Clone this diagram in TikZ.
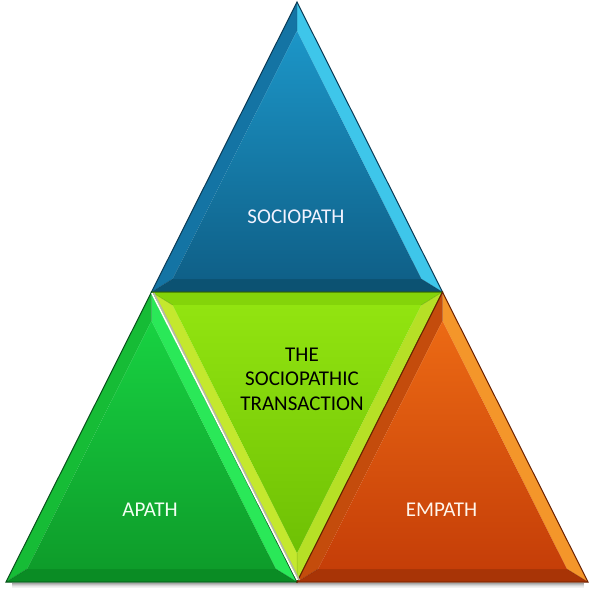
\documentclass[tikz,border=0pt]{standalone}
\usepackage{fontspec}
\setmainfont{Carlito}
\definecolor{bOut}{HTML}{0A3A55}
\definecolor{bLeft}{HTML}{1474A4}
\definecolor{bRight}{HTML}{3EC6EA}
\definecolor{bBase}{HTML}{0C5272}
\definecolor{bTop}{HTML}{1C96C8}
\definecolor{bBot}{HTML}{0F6088}
\definecolor{lOut}{HTML}{3A7000}
\definecolor{lLeft}{HTML}{C4E82E}
\definecolor{lRight}{HTML}{B6E026}
\definecolor{lBase}{HTML}{84D40A}
\definecolor{lTop}{HTML}{92E410}
\definecolor{lBot}{HTML}{6EC004}
\definecolor{gOut}{HTML}{06501A}
\definecolor{gLeft}{HTML}{16BC36}
\definecolor{gRight}{HTML}{2AE858}
\definecolor{gBase}{HTML}{0A8C24}
\definecolor{gTop}{HTML}{18D242}
\definecolor{gBot}{HTML}{0E9C2A}
\definecolor{oOut}{HTML}{6A2000}
\definecolor{oLeft}{HTML}{C44C0C}
\definecolor{oRight}{HTML}{F4962A}
\definecolor{oBase}{HTML}{A83406}
\definecolor{oTop}{HTML}{EC6A14}
\definecolor{oBot}{HTML}{C53E08}
\begin{document}
\begin{tikzpicture}[x=1pt,y=-1pt,
  lbl/.style={font=\fontsize{21}{24.5}\selectfont, inner sep=0pt, align=center}]
\useasboundingbox (0,0) rectangle (593,594);
% #1 cx, #2 apex y, #3 dir (1 up, -1 down), #4 outline, #5 left facet, #6 right facet, #7 base facet, #8 inner top, #9 inner bottom
\newcommand\bevtri[9]{%
  \begin{scope}[shift={(#1,#2)}]
    \coordinate (OA) at (0,0);
    \coordinate (OL) at (-145.5,{#3*290});
    \coordinate (OR) at (145.5,{#3*290});
    \coordinate (IA) at (0,{#3*29});
    \coordinate (IL) at (-124.4,{#3*277});
    \coordinate (IR) at (124.4,{#3*277});
    \fill[#5] (OA) -- (OL) -- (IL) -- (IA) -- cycle;
    \fill[#6] (OA) -- (OR) -- (IR) -- (IA) -- cycle;
    \fill[#7] (OL) -- (OR) -- (IR) -- (IL) -- cycle;
    \shade[top color=#8, bottom color=#9] (IA) -- (IL) -- (IR) -- cycle;
    \draw[#4, opacity=0.35, line width=0.5pt] (OA) -- (IA) (OL) -- (IL) (OR) -- (IR);
    \draw[#4, line width=1pt, line join=miter] (OA) -- (OL) -- (OR) -- cycle;
  \end{scope}}
% shadow under the bases
\foreach \d/\o in {1/0.35,2/0.25,3/0.16,4/0.09,5/0.05}
  \draw[black, opacity=\o, line width=1pt] (12,582+\d) -- (584,582+\d);
% top (blue)
\bevtri{297}{2}{1}{bOut}{bLeft}{bRight}{bBase}{bTop}{bBot}
% middle (lime, pointing down)
\bevtri{297}{582}{-1}{lOut}{lLeft}{lRight}{lBase}{lTop}{lBot}
% left (green)
\bevtri{151.5}{292}{1}{gOut}{gLeft}{gRight}{gBase}{gTop}{gBot}
% right (orange)
\bevtri{442.5}{292}{1}{oOut}{oLeft}{oRight}{oBase}{oTop}{oBot}
% separator between left and middle
\coordinate (sA) at (153.8,293);
\coordinate (sB) at (299.3,580);
\coordinate (wA) at (151.8,293);
\coordinate (wB) at (297.3,580);
\draw[black!30, line width=1.3pt] (sA) -- (sB);
\draw[white, line width=1.6pt] (wA) -- (wB);
% labels
\node[lbl, text=blue!5!white] (soc) at (296,217) {SOCIOPATH};
\node[lbl, text=black] (mid) at (302,379) {THE\\SOCIOPATHIC\\TRANSACTION};
\node[lbl, text=green!5!white] (apa) at (150,510) {APATH};
\node[lbl, text=orange!8!white] (emp) at (441.5,510) {EMPATH};
\end{tikzpicture}
\end{document}
